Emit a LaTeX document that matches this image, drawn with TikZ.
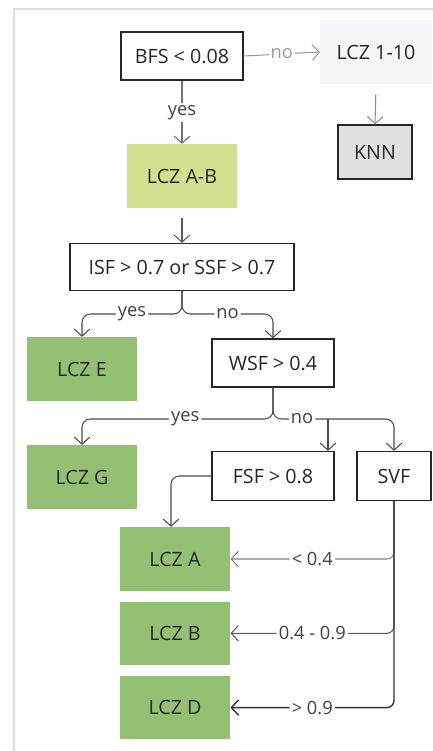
\documentclass[tikz,border=0pt]{standalone}
\usepackage{fontspec}
\setmainfont{Open Sans}
\usetikzlibrary{arrows.meta,positioning}

\definecolor{leafgreen}{RGB}{147,192,115}
\definecolor{mixgreen}{RGB}{213,221,143}
\definecolor{paleblue}{RGB}{245,245,250}
\definecolor{knngray}{RGB}{224,224,224}
\definecolor{framegray}{RGB}{222,222,222}

\tikzset{
  box/.style={rectangle, inner sep=0pt, text=black!85,
    font=\fontsize{14}{16}\selectfont,
    minimum width=2.75cm, minimum height=1.58cm},
  test/.style={box, draw=black!85, line width=0.9pt, fill=white,
    minimum width=3.05cm, minimum height=1.2cm},
  leaf/.style={box, fill=leafgreen},
  lbl/.style={fill=white, inner sep=1.5pt, text=black!75,
    font=\fontsize{13}{15}\selectfont},
}

\begin{document}
\begin{tikzpicture}[x=0.025cm,y=-0.025cm,line width=0.75pt,
    >={Straight Barb[length=5pt,width=11pt]}]
  \useasboundingbox (0,0) rectangle (433,751);
  \draw[framegray] (14,751) -- (14,9) -- (433,9);

  % Built-up test
  \node[test]                 (BFS)     at (182,56)  {BFS < 0.08};
  \node[box, fill=paleblue, minimum width=2.775cm, minimum height=1.6cm]
                              (LCZ all) at (376,52)  {LCZ 1-10};
  \node[test, fill=knngray, minimum width=1.85cm, minimum height=1.35cm]
                              (KNN)     at (375,152) {KNN};
  \node[box, fill=mixgreen]   (LCZ AB)  at (182,176) {LCZ A-B};

  % Land cover tests
  \node[test, minimum width=5.6cm, minimum height=1.175cm]
                              (ISF)     at (182,267) {ISF > 0.7 or SSF > 0.7};
  \node[leaf]                 (LCZ E)   at (82,369)  {LCZ E};
  \node[test]                 (WSF)     at (273,363) {WSF > 0.4};
  \node[leaf]                 (LCZ G)   at (82,477)  {LCZ G};
  \node[test, minimum height=1.225cm]
                              (FSF)     at (273,476) {FSF > 0.8};
  \node[test, minimum width=1.85cm, minimum height=1.225cm]
                              (SVF)     at (394,476) {SVF};

  % Leaves of the sky view split
  \node[leaf]                 (LCZ A)   at (175,559) {LCZ A};
  \node[leaf]                 (LCZ B)   [below=0.25cm of LCZ A] {LCZ B};
  \node[leaf]                 (LCZ D)   [below=0.25cm of LCZ B] {LCZ D};

  \coordinate (ISF split) at (182,314);
  \coordinate (WSF split) at (273,419);
  \coordinate (FSF drop)  at (328,419);

  % Top part
  \draw[->, black!40] (BFS.east) -- node[lbl, text=black!40] {no} (LCZ all.west);
  \draw[->, black!55] (BFS.south) -- node[lbl] {yes} (LCZ AB.north);
  \draw[->, black!45, shorten <=0.25cm] (LCZ all.south) -- (KNN.north);
  \draw[->, black!65, shorten <=0.25cm] (LCZ AB.south) -- (ISF.north);

  % Splits
  \begin{scope}[black!70, rounded corners=6pt]
    \draw[->] (ISF.south) -- (ISF split) -| node[lbl, pos=0.25] {yes} (LCZ E.north);
    \draw[->] (ISF.south) -- (ISF split) -| node[lbl, pos=0.25] {no} (WSF.north);
    \draw[->] (WSF.south) -- (WSF split) -| node[lbl, pos=0.23] {yes} (LCZ G.north);
    \draw[->] (WSF.south) -- (WSF split) -| node[lbl, pos=0.12] {no} (SVF.north);
    \draw[->] (FSF drop) -- (FSF drop |- FSF.north);
    \draw[->] (FSF.west) -| ([xshift=-0.1cm]LCZ A.north);
  \end{scope}

  % Sky view factor classes
  \begin{scope}[rounded corners=5pt]
    \draw[->, black!50] (SVF.south) |- node[lbl, pos=0.75] {< 0.4} (LCZ A.east);
    \draw[->, black!65] (SVF.south) |- node[lbl, pos=0.75] {0.4 - 0.9} (LCZ B.east);
    \draw[->, black!80, line width=1pt] (SVF.south) |- node[lbl, pos=0.75] {> 0.9} (LCZ D.east);
  \end{scope}
\end{tikzpicture}
\end{document}
